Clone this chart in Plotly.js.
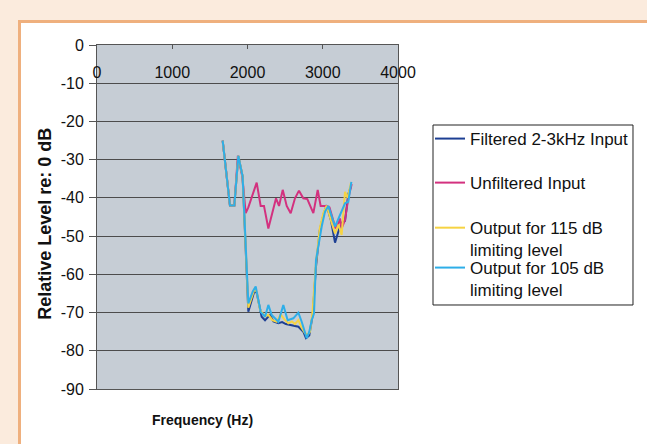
<!DOCTYPE html>
<html>
<head>
<meta charset="utf-8">
<script src="https://cdn.plot.ly/plotly-3.0.1.min.js"></script>
<style>
  html, body { margin: 0; padding: 0; }
  body { width: 647px; height: 444px; background: #fbebdd; position: relative; overflow: hidden; }
  #frame { position: absolute; left: 18px; top: 20px; right: 0; bottom: 0; background: #ffffff;
           border-left: 3px solid #efb07e; border-top: 3px solid #efb07e; }
  #chart { position: absolute; left: 0; top: 0; width: 647px; height: 444px; }
</style>
</head>
<body>
<div id="frame"></div>
<div id="chart"></div>
<script>
// ---- data ----
const seriesNames = ['Filtered 2-3kHz Input', 'Unfiltered Input',
  'Output for 115 dB<br>limiting level', 'Output for 105 dB<br>limiting level'];

const freqFiltered = [1670,1767,1825,1878,1935,2011,2090,2122,2188,2233,2299,2345,2410,2460,2510,2560,2609,2676,2742,2777,2821,2866,2910,2960,3008,3052,3110,3163,3220,3251,3296,3340,3375];
const levelFiltered = [-25,-42,-42,-29,-34.4,-69.8,-64.5,-64.8,-71.1,-72,-70.6,-72.3,-72.8,-72.5,-73,-73.2,-73.3,-73.7,-75,-76.7,-76,-70.6,-58,-48.5,-44.5,-41.9,-46,-51.7,-48,-46.5,-46,-39,-37];

const freqUnfiltered = [1670,1767,1825,1872,1932,1976,2011,2078,2122,2175,2219,2277,2335,2379,2419,2468,2521,2574,2631,2684,2742,2795,2875,2933,2972,3052,3090,3130,3170,3207,3229,3251,3296,3340,3385];
const levelUnfiltered = [-25,-42,-42,-29,-34.5,-44,-42.5,-38.4,-36,-42.1,-42.1,-48,-43.2,-40.1,-42.1,-37.9,-42.1,-44,-40.1,-38.1,-40.1,-40.3,-44,-37.9,-42.1,-42.1,-42.5,-45,-48,-46.7,-45.4,-48,-45.8,-40,-36.4];

const freqOut115 = [1670,1767,1825,1878,1935,2011,2090,2122,2166,2233,2277,2330,2388,2440,2490,2543,2590,2631,2676,2720,2764,2800,2831,2862,2910,2960,3008,3052,3110,3163,3210,3251,3296,3330,3375];
const levelOut115 = [-25,-42,-42,-29,-34.4,-68.7,-64,-64.5,-69.3,-71,-70.6,-72,-72.4,-70.5,-71.8,-72.8,-72.3,-73,-72,-74,-75.4,-75.8,-75,-70.2,-57,-48,-44,-42,-46,-49.3,-47,-49.7,-38.4,-40,-36];

const freqOut105 = [1670,1767,1825,1878,1935,2011,2070,2109,2175,2233,2277,2321,2365,2410,2476,2534,2609,2676,2720,2755,2787,2821,2853,2884,2910,2986,3030,3074,3118,3163,3200,3251,3296,3340,3380];
const levelOut105 = [-25,-42,-42,-29,-34.4,-67.6,-64.5,-63.2,-69.8,-71.1,-68,-70.6,-71.5,-72.4,-68,-72,-71.5,-70,-72.4,-75,-76.7,-75,-72,-70.2,-56.3,-47.5,-43.6,-42.1,-44.9,-47.5,-45.8,-43.2,-41.4,-41,-35.8];

const xTickVals = [0, 1000, 2000, 3000, 4000];
const xTickText = ['0', '1000', '2000', '3000', '4000'];
const yTickVals = [0, -10, -20, -30, -40, -50, -60, -70, -80, -90];
const yTickText = ['0', '-10', '-20', '-30', '-40', '-50', '-60', '-70', '-80', '-90'];

const xTitle = 'Frequency (Hz)';
const yTitle = 'Relative Level re: 0 dB';

// ---- styling ----
const colors = ['#1d3f93', '#d3317f', '#f6d343', '#2eaee8'];
const FONT = 'Arial, "Liberation Sans", sans-serif';
const legendIds = ['legend', 'legend2', 'legend3', 'legend4'];
const legendTops = [0.779, 0.651, 0.520, 0.404];

const xs = [freqFiltered, freqUnfiltered, freqOut115, freqOut105];
const ys = [levelFiltered, levelUnfiltered, levelOut115, levelOut105];

const traces = seriesNames.map((n, i) => ({
  type: 'scatter', mode: 'lines', name: n,
  x: xs[i], y: ys[i], legend: legendIds[i],
  line: { color: colors[i], width: 2 }
}));
// empty helper trace so the tick-label axis (x2) is built
traces.push({ type: 'scatter', mode: 'lines', x: [], y: [], xaxis: 'x2', showlegend: false, hoverinfo: 'skip' });

function legendAt(i) {
  return {
    x: 1.1063, y: legendTops[i], xanchor: 'left', yanchor: 'top',
    bgcolor: 'rgba(0,0,0,0)', borderwidth: 0, valign: 'top',
    font: { family: FONT, size: 17, color: '#111' }
  };
}

const layout = {
  width: 647, height: 444,
  margin: { l: 97, r: 249, t: 45, b: 55 },
  paper_bgcolor: 'rgba(0,0,0,0)',
  plot_bgcolor: '#c6cdd5',
  font: { family: FONT, size: 15, color: '#111' },
  showlegend: true,
  legend: legendAt(0), legend2: legendAt(1), legend3: legendAt(2), legend4: legendAt(3),
  xaxis: {
    range: [0, 4000], side: 'top',
    tickvals: xTickVals, showticklabels: false,
    ticks: 'inside', ticklen: 4, tickcolor: '#555',
    showgrid: false, zeroline: false,
    showline: true, mirror: true, linecolor: '#555', linewidth: 1
  },
  xaxis2: {
    range: [0, 4000], overlaying: 'x', anchor: 'free', position: 0.895, side: 'top',
    tickvals: xTickVals, ticktext: xTickText,
    ticks: '', showline: false, showgrid: false, zeroline: false,
    tickfont: { family: FONT, size: 16, color: '#111' }
  },
  yaxis: {
    range: [-90, 0],
    tickvals: yTickVals, ticktext: yTickText,
    ticks: 'outside', ticklen: 7, tickcolor: '#555', ticklabelstandoff: 2,
    showgrid: true, gridcolor: '#4c4c4c', gridwidth: 1,
    zeroline: false,
    showline: true, mirror: true, linecolor: '#555', linewidth: 1,
    tickfont: { family: FONT, size: 16, color: '#111' }
  },
  shapes: [
    { type: 'rect', xref: 'paper', yref: 'paper', layer: 'below',
      x0: 1.1163, x1: 1.7807, y0: 0.2442, y1: 0.7674,
      line: { color: '#222', width: 1 }, fillcolor: '#ffffff' }
  ],
  annotations: [
    { text: xTitle, xref: 'paper', yref: 'paper', x: 0.349, y: -0.09,
      xanchor: 'center', yanchor: 'middle', showarrow: false,
      font: { family: FONT, size: 14, color: '#111', weight: 'bold' } },
    { text: yTitle, xref: 'paper', yref: 'paper', x: -0.173, y: 0.48,
      xanchor: 'center', yanchor: 'middle', showarrow: false, textangle: -90,
      font: { family: FONT, size: 18, color: '#111', weight: 'bold' } }
  ]
};

Plotly.newPlot('chart', traces, layout, { displayModeBar: false, staticPlot: true });
</script>
</body>
</html>
